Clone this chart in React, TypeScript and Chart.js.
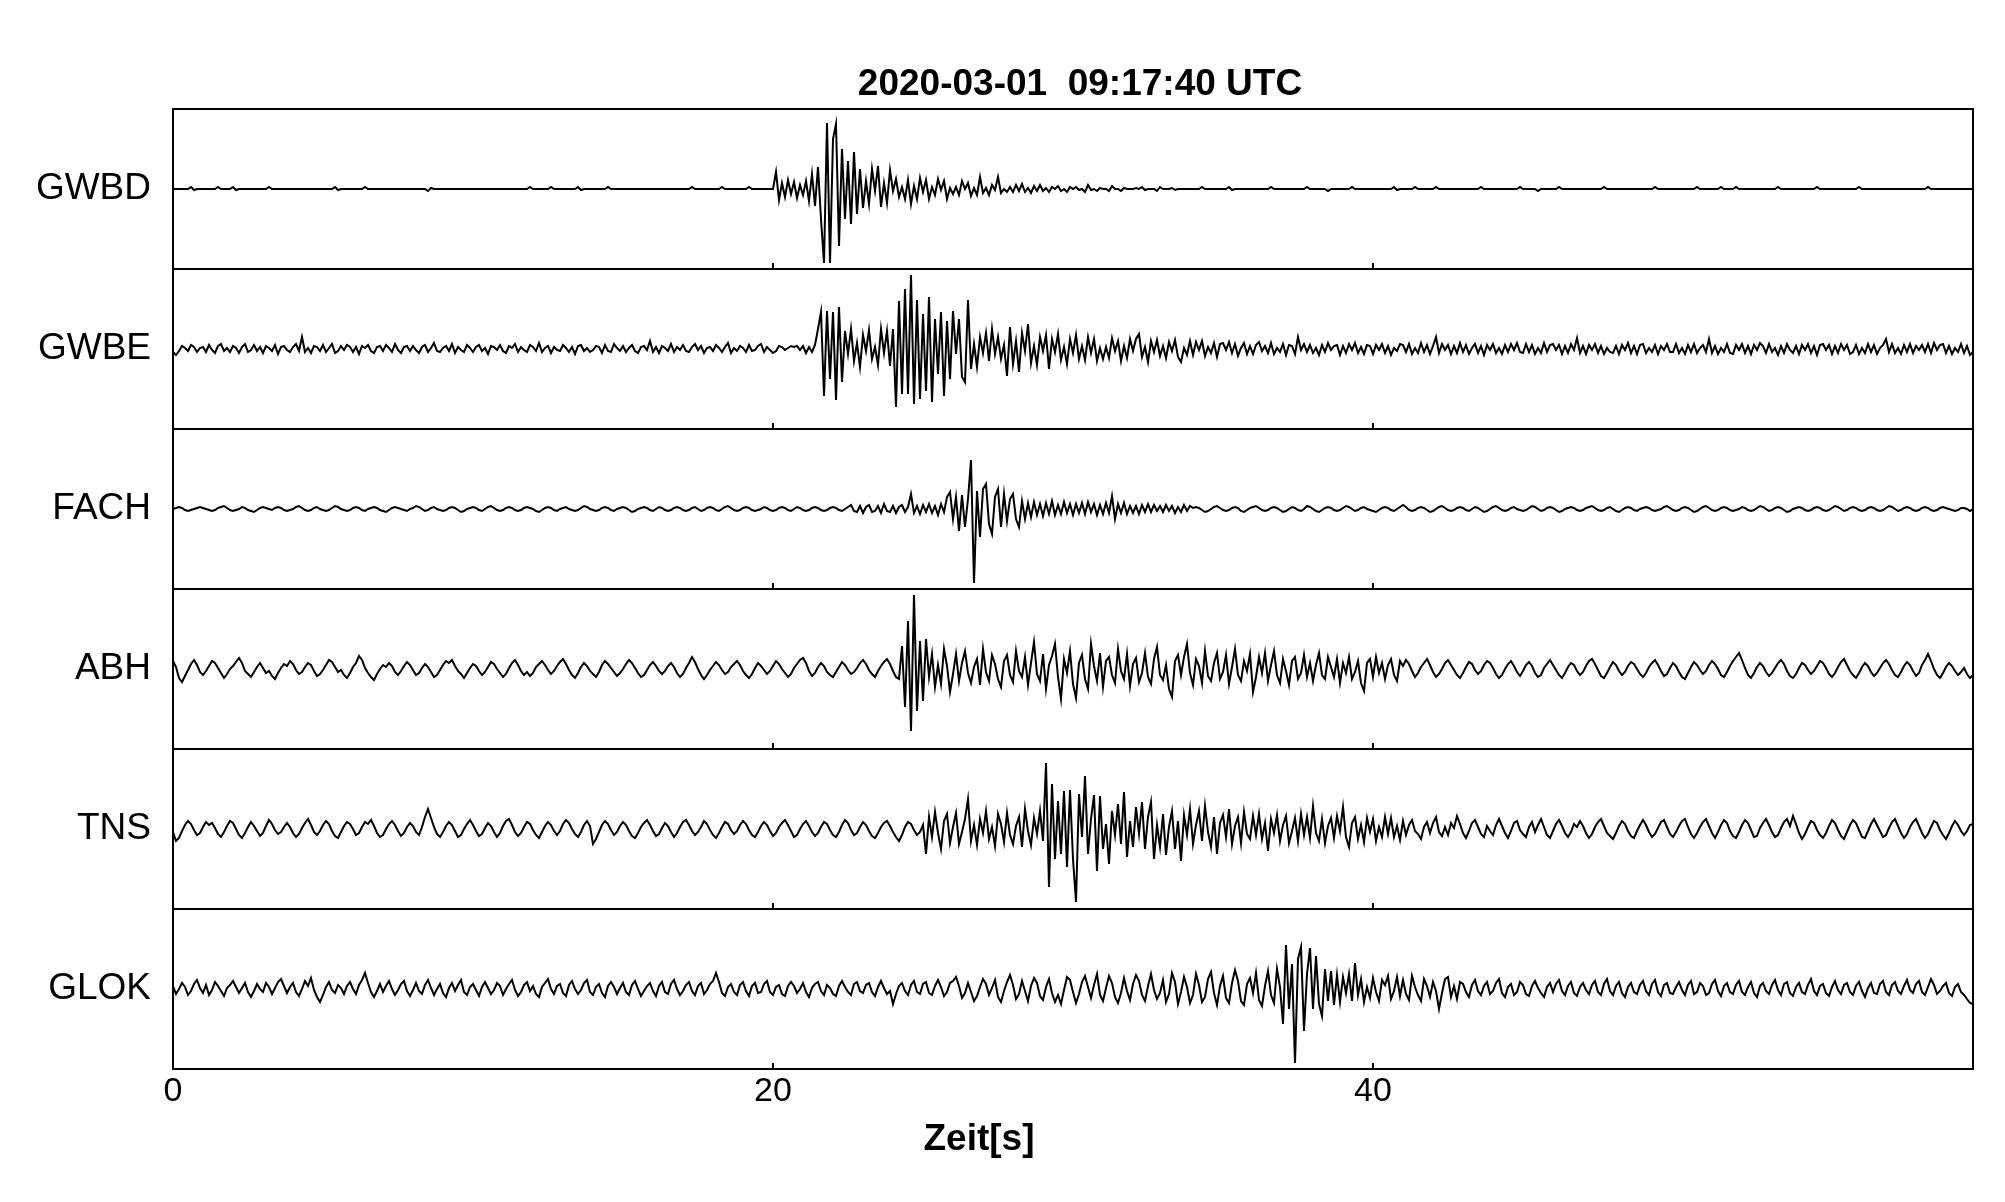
import React, { useEffect, useRef } from "react";
import { Chart, registerables } from "chart.js";

Chart.register(...registerables);

// samples per second of every trace (t = index / SAMPLE_RATE)
const SAMPLE_RATE = 10;
const TIME_MIN = 0;
const TIME_MAX = 60;
const X_TICKS = [0, 20, 40];
const INNER_TICKS = [20, 40];
const STATIONS = ["GWBD", "GWBE", "FACH", "ABH", "TNS", "GLOK"];
const TITLE = "2020-03-01  09:17:40 UTC";
const X_TITLE = "Zeit[s]";

// normalised amplitudes (panel half height = 80)
const GWBD = [
  0,0,0,0,0,0,2,-1,0,0,
  0,0,0,0,0,2,0,0,0,0,
  2,-1,0,0,0,0,0,0,0,0,
  0,0,2,0,0,0,0,0,0,0,
  0,0,0,0,0,0,0,0,0,0,
  0,0,0,0,2,-1,0,0,0,0,
  0,0,0,0,2,0,0,0,0,0,
  0,0,0,0,0,0,0,0,0,0,
  0,0,0,0,0,-2,1,0,0,0,
  0,0,0,0,0,0,0,0,0,0,
  0,0,0,0,0,0,0,0,0,0,
  0,0,0,0,0,0,0,0,0,2,
  0,0,0,0,0,0,2,0,0,0,
  0,0,0,0,0,2,-1,0,0,0,
  0,0,0,0,0,2,0,0,0,0,
  0,0,0,0,0,0,0,0,0,0,
  0,0,0,0,0,0,0,0,0,0,
  0,0,0,2,0,0,0,0,0,0,
  0,0,0,2,0,0,0,0,0,0,
  0,0,2,0,0,0,0,0,0,0,
  0,17,-11,6,-8,9,-5,7,-9,4,
  -6,8,-12,15,-17,22,-30,-74,66,-74,
  50,65,-57,40,-30,28,-35,37,-25,20,
  -19,8,-15,20,-2,23,-18,6,-14,19,
  -2,10,-8,2,-10,9,-15,3,-10,11,
  -3,9,-10,2,-6,10,-1,8,-10,1,
  -5,2,-6,8,0,6,-7,1,-6,12,
  -4,1,-6,4,-1,12,-4,0,-3,2,
  -3,4,-2,5,-3,1,-4,3,-2,4,
  -2,1,-3,2,0,3,-2,0,-3,2,
  0,2,-1,0,-3,4,-1,0,-2,1,
  0,0,-2,3,0,0,-2,1,0,0,
  0,1,0,2,-1,0,0,0,-2,2,
  0,0,0,1,-1,0,0,0,0,0,
  0,0,0,2,0,0,0,0,0,0,
  0,0,2,-1,0,0,0,0,0,0,
  0,0,0,0,0,0,2,0,0,0,
  0,0,0,0,0,0,0,0,2,0,
  0,0,0,0,0,-2,0,0,0,0,
  0,0,0,2,0,0,0,0,0,0,
  0,0,0,0,0,0,0,2,-1,0,
  0,0,0,0,2,0,0,0,0,0,
  0,2,0,0,0,0,0,0,0,0,
  0,0,0,0,0,0,2,0,0,0,
  0,0,0,0,0,0,0,0,0,2,
  0,0,0,0,0,-2,0,0,0,0,
  0,0,2,0,0,0,0,0,0,0,
  0,0,0,0,0,0,0,2,0,0,
  0,0,0,0,0,0,0,0,0,0,
  0,0,0,0,2,0,0,0,0,0,
  0,0,0,0,0,0,0,0,2,0,
  0,0,0,0,0,0,2,0,0,0,
  0,2,0,0,0,0,0,0,0,0,
  0,0,0,0,0,2,0,0,0,0,
  0,0,0,0,0,0,0,0,2,0,
  0,0,0,0,0,0,0,0,0,0,
  0,0,2,0,0,0,0,0,0,0,
  0,0,0,0,0,0,0,0,0,0,
  0,0,0,0,0,2,0,0,0,0,
  0,0,0,0,0,0,0,0,0,0,
  0,
];

const GWBE = [
  -3,-6,-2,3,1,-2,4,2,-3,1,
  2,-3,4,-1,-4,3,5,-2,1,-3,
  3,1,-4,2,5,-3,-1,4,-2,2,
  -4,3,1,-2,4,-5,2,3,-1,-3,
  2,5,-2,12,-3,1,-4,3,2,-2,
  4,-3,1,5,-4,-2,3,-1,4,2,
  -3,2,-5,3,1,4,-2,-4,2,3,
  -2,4,1,-3,5,-1,-4,2,3,-2,
  3,-1,-4,2,4,-3,1,6,-2,-3,
  1,3,-2,5,-4,2,-1,-3,4,1,
  -3,2,4,-2,1,-5,3,2,-1,4,
  -2,-4,3,1,5,-3,2,-1,-3,4,
  2,-2,6,-3,1,3,-4,2,-1,-2,
  4,1,-3,2,-5,3,4,-2,1,-3,
  -1,3,2,-4,4,-2,-3,5,1,-2,
  3,-3,1,4,-2,-4,2,3,-1,8,
  -3,2,-4,3,1,-2,5,-3,2,-1,
  4,-2,-3,2,5,-1,3,-4,1,2,
  -2,4,1,-3,2,6,-4,1,-2,3,
  1,-3,4,-2,-1,3,5,-3,2,-1,
  -4,-2,3,2,-1,1,3,2,3,-1,
  3,-4,2,-3,4,20,37,-47,38,-30,
  37,-51,42,-33,18,-5,20,-12,6,-18,
  14,-2,19,-10,2,-16,20,-4,18,-17,
  20,-58,48,-45,60,-45,74,-55,49,-50,
  35,-42,52,-53,30,-25,37,-47,28,-30,
  38,-5,30,-28,-33,49,-20,5,-18,12,
  -4,16,-12,20,-5,12,-10,4,-27,22,
  -15,8,-23,16,-2,25,-14,3,-16,12,
  -2,14,-20,10,-3,15,-11,2,-15,10,
  -4,14,-10,3,-11,12,-4,10,-12,1,
  -10,2,-9,11,-2,8,-12,3,-9,10,
  -2,10,15,-8,2,-13,8,-3,9,-7,
  3,-9,7,-2,9,-8,-13,1,-6,8,
  -6,7,-1,8,-7,2,-4,6,-8,5,
  6,-1,7,-4,5,-7,1,6,-5,3,
  -5,4,7,-2,3,-4,6,-5,1,-3,
  5,-6,4,3,-5,12,-1,5,-3,4,
  -4,1,-6,4,-3,6,-1,3,4,-6,
  3,-4,5,-1,6,-4,2,-5,4,3,
  -5,4,-1,5,-4,3,-6,1,-2,5,
  4,-3,5,-5,1,-4,6,-3,4,-5,
  3,12,-4,5,-1,4,-5,3,-4,6,
  -3,4,-5,1,5,-4,3,-6,4,-1,
  5,-4,1,-5,4,-3,5,-1,6,-3,
  -4,5,-3,4,-5,1,-4,6,-3,4,
  5,-1,4,-5,3,-4,5,-1,11,-4,
  3,-5,4,-1,5,-4,3,-5,1,-3,
  -4,3,-5,4,-1,6,-4,3,-5,4,
  5,-4,1,-3,4,-5,3,-1,5,-3,
  -3,5,-4,1,-5,4,-3,5,-4,1,
  4,-3,10,-4,3,-5,1,-3,5,-4,
  -5,4,-1,5,-4,3,-5,4,-1,6,
  3,-4,5,-3,1,-6,3,-4,5,-1,
  -4,3,-5,4,-1,5,-4,3,-6,4,
  5,-1,4,-5,3,-4,5,-1,4,-5,
  -3,4,-5,1,-4,5,-3,4,-5,1,
  4,10,-3,5,-4,1,-5,4,-3,5,
  -4,3,-1,4,-3,5,-4,6,-1,4,
  5,-4,3,-5,1,-3,5,-4,3,-6,
  -3,
];

const FACH = [
  0,1,2,1,-1,-2,-1,0,1,2,
  1,0,-1,-2,-1,1,2,3,1,-1,
  -2,-1,0,2,1,-1,-2,-3,-1,1,
  2,1,0,-1,1,2,1,-1,-2,-1,
  0,2,3,1,-1,-2,-1,1,2,0,
  -1,-2,-1,1,3,2,0,-1,-2,-1,
  1,2,1,-1,-2,0,1,2,1,-1,
  -2,-3,-1,1,2,1,0,-1,-2,0,
  1,3,2,0,-2,-1,1,2,0,-1,
  -2,-1,1,2,1,-1,-3,-2,0,1,
  2,1,-1,-2,0,2,3,1,-1,-2,
  -1,1,2,1,-1,-2,-1,1,2,1,
  0,-2,-3,-1,1,2,1,-1,-2,0,
  1,2,0,-1,-2,-1,1,3,2,0,
  -1,-2,-1,1,2,1,-1,-2,0,1,
  2,1,-1,-3,-2,0,1,2,1,-1,
  -2,0,2,1,-1,-2,-1,1,2,1,
  -1,-2,-1,1,2,0,-2,-1,1,2,
  1,-1,-2,0,2,3,1,-1,-2,-1,
  1,2,1,-1,-2,-1,0,2,1,-1,
  -2,-1,1,2,1,-1,-2,0,2,1,
  -1,-2,-1,1,2,1,-1,-2,-1,1,
  2,1,-1,-2,0,2,4,-2,-3,3,
  -4,2,4,-3,-2,3,-4,5,-2,-3,
  3,-4,2,4,-3,2,15,-4,3,-5,
  4,-3,5,-4,3,-6,5,-3,12,17,
  -10,12,-22,14,-18,10,49,-74,18,-28,
  20,25,-15,-25,12,20,-18,15,-12,10,
  15,-10,-18,8,-10,6,-8,7,-6,5,
  -7,6,-5,8,-6,4,-5,7,-4,5,
  -6,5,-4,6,-5,7,-3,5,-6,4,
  -5,6,-4,13,-10,5,-4,6,-5,3,
  -4,3,-5,4,-3,5,-3,4,-2,3,
  -3,4,-2,3,-4,2,-3,4,-2,3,
  1,2,1,-1,-3,-2,0,2,3,1,
  -1,-2,-1,1,2,1,-2,-3,-1,1,
  2,3,1,-1,-2,-1,1,2,1,-1,
  -3,-2,0,2,1,-1,-2,0,3,2,
  0,-2,-3,-1,1,2,1,-1,-2,-1,
  1,3,2,0,-2,-1,1,2,0,-1,
  -2,-3,-1,1,2,1,-1,-2,0,2,
  4,2,-1,-2,-1,1,2,1,-1,-3,
  -2,0,2,3,1,-1,-2,-1,1,2,
  1,-1,-2,0,2,1,-1,-3,-2,0,
  2,3,1,-1,-2,-1,1,2,0,-1,
  -2,-1,1,3,2,0,-2,-1,1,2,
  1,-1,-3,-2,0,1,2,1,-1,-2,
  -1,1,2,3,1,-1,-2,-1,1,2,
  0,-2,-3,-1,1,2,1,-1,-2,0,
  1,2,1,-1,-2,-1,0,2,3,1,
  -1,-2,-1,1,2,1,-1,-3,-2,0,
  2,3,1,-1,-2,-1,1,2,1,-1,
  -2,-1,0,2,1,-1,-2,-1,1,3,
  2,0,-2,-1,1,2,1,-1,-3,-2,
  0,1,2,1,-1,-2,-1,1,2,1,
  -1,-2,-1,1,3,2,0,-2,-1,1,
  2,1,-1,-2,-1,1,2,1,-1,-2,
  -1,1,3,2,0,-2,-1,1,2,1,
  -1,-2,-1,1,2,1,-1,-2,-1,1,
  2,1,0,-1,-2,-1,1,1,0,-2,
  0,
];

const ABH = [
  8,2,-9,-13,-7,-1,5,9,4,-3,
  -6,-2,3,8,6,1,-4,-9,-5,0,
  3,7,11,6,-2,-5,-8,-3,2,6,
  1,-4,-2,-7,-10,-4,1,5,3,8,
  5,-1,-5,-3,2,6,4,-2,-7,-5,
  -1,4,9,7,2,-3,-1,-6,-9,-4,
  2,6,13,9,1,-4,-8,-11,-5,0,
  4,2,6,3,-3,-6,-2,3,7,4,
  -1,-6,-4,1,5,2,-3,-8,-6,-1,
  4,8,6,9,3,-2,-5,-9,-4,1,
  5,3,-2,-6,-3,2,7,5,0,-4,
  -8,-5,1,6,9,4,-2,-6,-3,-7,
  -4,2,5,8,4,-1,-5,-2,3,7,
  10,5,-1,-6,-9,-4,2,6,3,-2,
  -5,-8,-3,4,8,5,1,-3,-7,-4,
  0,5,9,6,1,-4,-8,-6,-1,4,
  7,3,-2,-5,-2,3,6,2,-4,-8,
  -5,1,6,12,7,0,-6,-10,-6,-1,
  3,7,4,-1,-5,-3,2,5,8,4,
  -2,-6,-9,-5,1,6,3,-1,-5,-2,
  3,8,5,0,-4,-8,-5,1,5,9,
  11,6,-2,-7,-4,2,6,3,-3,-6,
  -8,-3,2,7,4,-1,-5,-3,1,6,
  9,5,-1,-5,-8,-2,3,7,10,5,
  -2,-8,-10,23,-38,48,-62,74,-42,28,
  -32,30,-8,15,-18,4,-15,20,3,-23,
  -5,15,-12,6,18,-4,-14,2,10,-16,
  20,-3,-12,14,5,-10,-18,8,14,-6,
  -13,18,-2,-8,12,-16,6,27,-5,-12,
  15,-20,4,13,25,-8,-30,10,-4,18,
  -15,-29,6,14,-10,-20,25,3,-12,16,
  -18,8,12,-6,-14,20,-2,-10,15,-17,
  5,11,-13,-4,16,-8,-15,10,22,-6,
  -11,4,-20,-28,8,14,-6,12,25,-4,
  -16,10,3,-14,18,-7,-12,6,16,-10,
  -3,14,-15,2,20,-6,-12,8,-2,15,
  -23,-8,12,-4,16,-12,4,18,-6,-14,
  10,-2,-16,8,12,-10,-4,14,-8,6,
  -12,4,16,-6,-10,12,2,-8,10,-14,
  6,-4,12,-10,-3,8,-14,-22,6,10,
  -8,12,-4,6,-10,4,10,-6,-12,8,
  3,9,5,-2,-8,-4,2,6,10,4,
  -3,-8,-5,0,6,9,4,-1,-6,-9,
  -4,2,7,5,-1,-5,-2,4,8,6,
  1,-5,-9,-6,0,5,8,3,-3,-7,
  -2,4,7,3,-4,-8,-6,1,5,9,
  4,-1,-6,-9,-4,2,6,4,-2,-6,
  -3,3,8,10,5,-1,-7,-9,-4,2,
  7,4,-2,-6,-3,3,7,5,0,-5,
  -8,-4,2,6,9,4,-2,-7,-5,1,
  6,3,-3,-8,-10,-4,2,7,4,-1,
  -5,-2,4,8,5,0,-6,-8,-3,3,
  8,12,16,9,1,-6,-9,-4,2,6,
  3,-3,-7,-4,1,6,9,5,-2,-7,
  -9,-5,1,6,4,-1,-5,-2,3,8,
  6,1,-5,-8,-4,2,7,10,4,-2,
  -6,-9,-4,2,6,3,-3,-7,-4,1,
  6,9,5,-1,-6,-8,-3,3,7,4,
  -2,-7,-4,4,9,15,8,0,-6,-9,
  -4,2,6,3,-2,-6,-3,1,-5,-9,
  -6,
];

const TNS = [
  -3,-12,-9,-2,4,8,5,-1,-6,-4,
  2,7,4,6,1,-5,-8,-3,3,8,
  6,0,-6,-9,-4,2,7,3,-2,-7,
  -4,3,9,5,-1,-5,-3,2,6,2,
  -4,-8,-5,1,6,10,4,-3,-6,-2,
  4,8,5,-2,-7,-9,-3,3,7,5,
  0,-6,-4,2,7,5,9,3,-4,-8,
  -6,0,5,8,4,-2,-7,-4,2,6,
  3,-3,-6,2,12,20,11,2,-5,-8,
  -3,3,7,4,-2,-8,-6,0,5,9,
  4,-2,-7,-5,1,6,3,-3,-8,-4,
  3,8,10,4,-3,-7,-4,2,7,5,
  -1,-6,-9,-3,3,7,4,-2,-6,-2,
  5,9,6,0,-5,-8,-3,4,8,3,
  -15,-10,-3,4,8,5,-1,-6,-3,3,
  7,4,-2,-7,-9,-4,2,6,9,4,
  -2,-7,-5,1,6,3,-3,-8,-4,2,
  7,9,4,-2,-6,-3,2,8,5,-1,
  -6,-9,-4,2,7,5,-1,-5,-2,4,
  8,5,-1,-6,-8,-3,3,7,4,-2,
  -7,-4,2,6,9,4,-2,-8,-6,0,
  5,8,3,-3,-7,-4,2,7,5,-1,
  -6,-8,-3,4,9,6,-1,-6,-4,2,
  7,4,-2,-7,-9,-4,2,6,8,3,
  -3,-8,-12,-6,2,7,5,-1,-6,-3,
  4,-25,12,-8,17,-4,-20,8,15,-14,
  2,16,-15,-3,10,30,-12,4,-16,10,
  -4,18,-10,2,-17,15,5,-13,16,-6,
  -15,3,12,-18,20,-2,-16,11,-5,18,
  -12,66,-58,45,-30,28,-25,38,-38,39,
  -30,-73,35,-8,53,-25,10,34,-42,33,
  -20,5,-35,18,-6,25,-15,37,-28,8,
  -18,22,-5,27,-20,12,27,-30,4,-18,
  15,-26,2,18,-20,8,-32,14,-6,20,
  -15,4,18,-12,23,-3,-18,12,-25,6,
  14,-8,20,-15,3,12,-14,17,-5,-10,
  13,-6,15,-10,6,-22,10,-4,14,-12,
  4,13,-14,-2,11,-12,15,-6,12,-9,
  23,-4,-12,10,-14,3,11,-9,13,-2,
  22,-8,-18,6,12,-10,4,-13,11,-3,
  10,-12,2,-8,12,-5,11,-8,3,-11,
  8,-6,4,9,-2,-5,-10,2,7,-4,
  6,12,-3,-7,2,-6,6,1,13,5,
  -4,-9,-2,6,9,2,-5,-8,3,-2,
  -6,4,10,3,-4,-9,-2,6,8,-1,
  -5,-8,2,7,-3,4,10,2,-6,-9,
  -2,5,9,3,-4,-8,-3,5,2,8,
  3,-4,-9,-5,2,7,10,3,-4,-7,
  -10,-4,3,8,5,-2,-7,-9,-2,4,
  9,4,-3,-8,-5,1,7,9,2,-5,
  -8,-3,3,8,10,2,-5,-9,-4,2,
  7,10,3,-4,-9,-3,4,9,6,-2,
  -7,-9,-3,4,9,6,-1,-8,-7,1,
  6,10,4,-3,-8,-6,1,7,10,3,
  13,5,-4,-10,-5,2,8,6,-1,-6,
  -9,-4,3,9,6,-1,-7,-10,-3,4,
  9,6,-1,-8,-9,-2,5,10,4,-2,
  -8,-6,1,7,10,3,-4,-9,-5,2,
  7,10,3,-4,-9,-5,2,8,6,-1,
  -6,-10,-4,3,8,4,-2,-6,-2,4,
  5,
];

const GLOK = [
  3,-5,0,6,2,-6,-2,5,9,1,
  -4,4,-6,-1,7,3,-2,-7,1,4,
  8,2,-4,1,6,-3,-8,-2,5,0,
  -3,6,2,-5,1,7,10,3,-4,2,
  6,-3,-7,0,8,3,11,-1,-8,-13,
  -6,2,7,-1,-4,4,1,-5,3,7,
  0,-5,4,9,16,6,-3,-8,-2,5,
  -3,3,8,0,-6,-1,5,8,-2,-7,
  -1,6,-2,-5,4,9,1,-6,0,5,
  -4,-8,1,6,-2,4,9,-3,-6,2,
  5,-1,-7,2,7,1,-5,-1,6,3,
  -6,0,5,9,-1,-7,-3,4,7,-2,
  3,-5,-8,2,6,10,0,-5,3,5,
  -4,-7,4,8,0,-5,-1,6,9,-3,
  -6,2,5,-4,-8,3,7,2,-5,1,
  6,-3,-6,4,8,0,-7,-2,3,6,
  -2,-7,3,7,-3,-5,5,9,0,-6,
  -2,4,7,-2,-6,3,6,-5,-1,5,
  8,16,7,-4,-7,2,5,-3,-6,4,
  7,-2,-7,3,6,-4,-3,5,8,-3,
  -6,2,4,-5,-7,3,7,3,-4,0,
  6,-3,-8,1,5,7,-2,-6,4,1,
  -5,-7,3,8,2,-3,-6,5,7,-2,
  -4,4,6,-3,-7,2,8,1,-5,-2,
  -15,-5,3,6,-2,-6,4,8,-3,-5,
  5,7,-4,-6,3,9,2,-7,-3,6,
  8,12,3,-9,-4,6,-3,-12,-7,2,
  10,5,-6,1,9,-8,-13,-2,7,14,
  4,-10,-5,8,-2,-12,3,11,6,-7,
  -11,2,10,-4,-13,-6,-15,-1,12,9,
  -3,-14,-5,7,13,2,-9,4,15,-6,
  -12,1,13,6,-8,-14,-4,11,-2,-11,
  5,14,8,-6,-12,3,15,-1,-10,-4,
  9,-13,-5,16,7,-15,-3,12,2,-14,
  -6,15,4,-13,-8,10,17,-4,-16,3,
  13,-9,-14,6,19,8,-12,-16,5,11,
  -4,16,-11,-17,3,18,-6,-14,20,2,
  -35,44,-20,25,-74,30,42,-42,15,41,
  -20,33,-15,-27,20,-12,18,-16,14,-13,
  12,-4,15,-12,26,-6,10,-13,2,-9,
  11,-3,-12,9,4,13,-10,-2,12,-7,
  9,-5,-11,13,2,-6,-12,10,3,-8,
  7,-2,-20,-4,10,12,-8,3,-10,7,
  5,-3,-8,4,9,-2,-6,3,7,-5,
  -2,6,10,-4,-8,2,5,-6,-3,7,
  4,-5,-7,3,8,1,-4,-8,2,6,
  -3,5,9,-2,-6,3,7,-4,-7,2,
  6,-1,-5,4,8,-3,-6,5,10,-2,
  -6,3,7,-4,-8,2,6,-3,-5,4,
  8,-2,-6,5,9,-3,-7,4,6,-4,
  -5,2,7,-1,-6,4,8,-5,-3,6,
  3,-6,-4,5,9,-2,-7,3,6,-3,
  -5,4,8,-3,-6,2,7,-4,-8,3,
  6,-2,-5,4,9,-1,-6,5,7,-4,
  -7,2,6,-3,-5,4,10,-2,-6,3,
  5,-4,-7,2,8,-1,-5,4,6,-3,
  -6,3,7,-2,-8,1,6,-4,-5,5,
  8,-3,-6,4,7,-2,-5,3,9,-1,
  -4,5,8,-3,-6,2,10,4,-5,-2,
  3,6,-4,-7,2,5,-3,-6,-10,-14,
  -15,
];

const TRACES = [GWBD, GWBE, FACH, ABH, TNS, GLOK];
const AMP_LIMIT = 80;

const FONT = "'Liberation Sans', Arial, Helvetica, sans-serif";

export default function App() {
  const canvasRef = useRef<HTMLCanvasElement | null>(null);

  useEffect(() => {
    const canvas = canvasRef.current;
    if (!canvas) return;

    const scales: any = {
      x: {
        type: "linear",
        min: TIME_MIN,
        max: TIME_MAX,
        afterBuildTicks: (s: any) => {
          s.ticks = X_TICKS.map((v) => ({ value: v }));
        },
        afterFit: (s: any) => {
          s.height = 60;
        },
        grid: { display: false, drawTicks: false },
        border: { display: false },
        ticks: {
          autoSkip: false,
          maxRotation: 0,
          padding: 2,
          color: "#000",
          font: { family: FONT, size: 34 },
          callback: (v: any) => String(v),
        },
      },
    };

    // stacked left axes are laid out last-defined-first (top), so define them in reverse
    for (let i = STATIONS.length - 1; i >= 0; i--) {
      const name = STATIONS[i];
      scales["y" + i] = {
        type: "linear",
        position: "left",
        stack: "traces",
        stackWeight: 1,
        min: -AMP_LIMIT,
        max: AMP_LIMIT,
        afterBuildTicks: (s: any) => {
          s.ticks = [{ value: 0 }];
        },
        afterFit: (s: any) => {
          s.width = 173;
        },
        grid: { display: false, drawTicks: false },
        border: { display: false },
        ticks: {
          autoSkip: false,
          padding: 22,
          color: "#000",
          font: { family: FONT, size: 37 },
          callback: () => name,
        },
      };
    }

    const datasets = TRACES.map((trace, i) => ({
      label: STATIONS[i],
      data: trace.map((v, k) => ({ x: k / SAMPLE_RATE, y: v })),
      yAxisID: "y" + i,
      borderColor: "#000",
      borderWidth: 2,
      pointRadius: 0,
      tension: 0,
      fill: false,
    }));

    const framePlugin = {
      id: "seisFrame",
      afterDraw(chart: any) {
        const ctx = chart.ctx;
        const area = chart.chartArea;
        const xs = chart.scales.x;
        ctx.save();
        ctx.strokeStyle = "#000";
        ctx.lineWidth = 2;
        STATIONS.forEach((_, i) => {
          const ys = chart.scales["y" + i];
          ctx.strokeRect(area.left, ys.top, area.right - area.left, ys.bottom - ys.top);
          INNER_TICKS.forEach((t) => {
            const px = Math.round(xs.getPixelForValue(t));
            ctx.beginPath();
            ctx.moveTo(px, ys.bottom);
            ctx.lineTo(px, ys.bottom - 6);
            ctx.stroke();
          });
        });
        ctx.fillStyle = "#000";
        ctx.textAlign = "center";
        ctx.textBaseline = "alphabetic";
        ctx.font = `bold 37px ${FONT}`;
        ctx.fillText(TITLE, 1080, 95);
        ctx.fillText(X_TITLE, 979, 1150);
        ctx.restore();
      },
    };

    const chart = new Chart(canvas, {
      type: "line",
      data: { datasets },
      options: {
        responsive: false,
        animation: false,
        devicePixelRatio: 1,
        parsing: false,
        normalized: true,
        layout: { padding: { left: 0, top: 109, right: 32, bottom: 1202 - 1069 - 60 } },
        plugins: { legend: { display: false }, tooltip: { enabled: false }, title: { display: false } },
        scales,
      } as any,
      plugins: [framePlugin],
    });

    return () => chart.destroy();
  }, []);

  return (
    <div style={{ position: "fixed", left: 0, top: 0, width: 2005, height: 1202, background: "#fff" }}>
      <canvas ref={canvasRef} width={2005} height={1202} style={{ width: 2005, height: 1202, display: "block" }} />
    </div>
  );
}
